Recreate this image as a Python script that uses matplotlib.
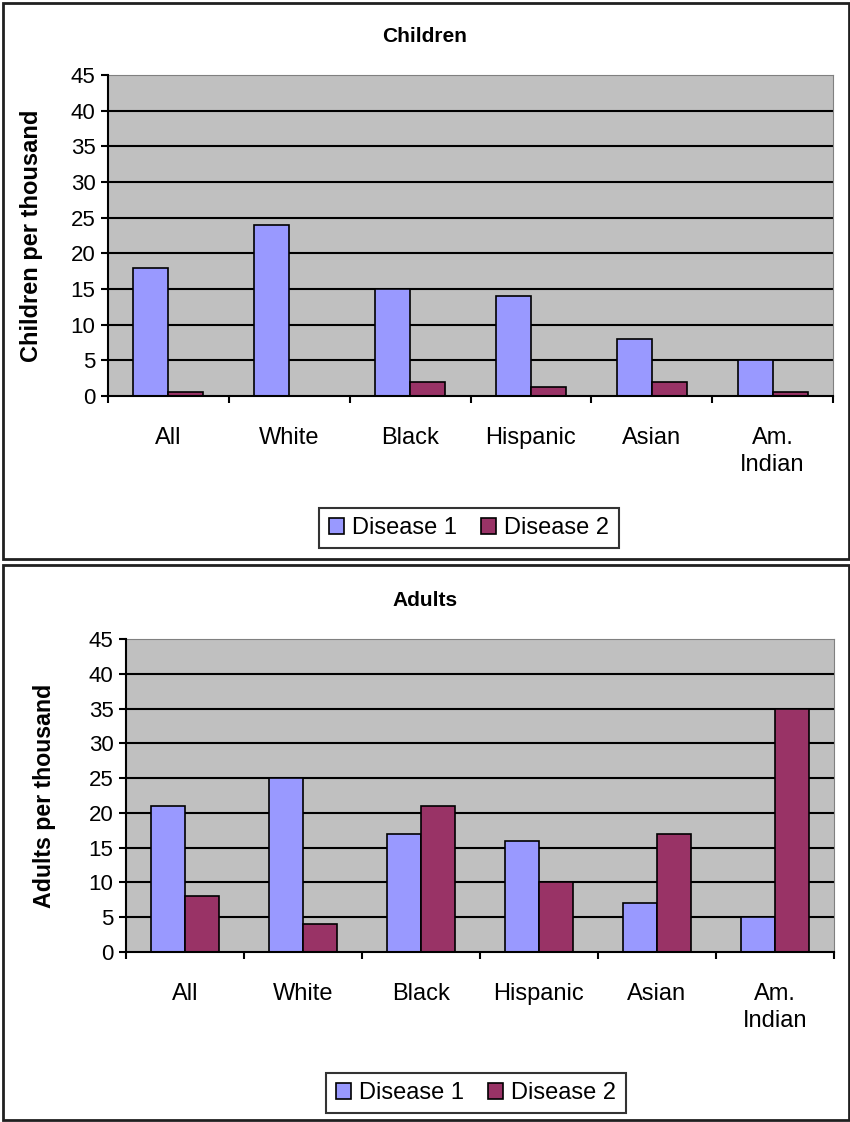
import numpy as np
import matplotlib
matplotlib.use('Agg')
import matplotlib.pyplot as plt
from matplotlib.patches import Rectangle

groups = ['All', 'White', 'Black', 'Hispanic', 'Asian', 'Am.\nIndian']
series_names = ['Disease 1', 'Disease 2']

children_d1 = [18, 24, 15, 14, 8, 5]
children_d2 = [0.6, 0, 2, 1.2, 2, 0.6]

adults_d1 = [21, 25, 17, 16, 7, 5]
adults_d2 = [8, 4, 21, 10, 17, 35]

y_ticks = [0, 5, 10, 15, 20, 25, 30, 35, 40, 45]

plt.rcParams['font.family'] = ['Liberation Sans', 'DejaVu Sans']

W, H = 850, 1122
fig = plt.figure(figsize=(W / 100, H / 100), dpi=100)
fig.patch.set_facecolor('white')


def px_box(left, top, right, bottom):
    # pixel box -> figure fraction [x0, y0, w, h]
    return [left / W, 1 - bottom / H, (right - left) / W, (bottom - top) / H]


def draw_panel(box, title, title_y, ylabel, ylabel_x, ylabel_size, d1, d2, leg_center, frame):
    ax = fig.add_axes(px_box(*box))
    ax.set_facecolor('#c0c0c0')
    x = np.arange(len(groups))
    w = 0.29
    ax.bar(x - w / 2, d1, w, color='#9999ff', edgecolor='black', linewidth=1.2, zorder=3, label=series_names[0])
    ax.bar(x + w / 2, d2, w, color='#993366', edgecolor='black', linewidth=1.2, zorder=3, label=series_names[1])

    ax.set_ylim(0, 45)
    ax.set_xlim(-0.5, len(groups) - 0.5)
    ax.set_yticks(y_ticks)
    ax.set_yticklabels([str(t) for t in y_ticks], fontsize=16)
    for t in y_ticks[1:-1]:
        ax.axhline(t, color='black', lw=1.5, zorder=1)

    # category boundaries get the tick marks, names sit at the centres
    ax.set_xticks(np.arange(len(groups) + 1) - 0.5)
    ax.set_xticklabels([])
    ax.set_xticks(x, minor=True)
    ax.set_xticklabels(groups, minor=True, fontsize=17, linespacing=1.3)
    ax.tick_params(axis='x', which='major', direction='out', length=5, width=1.5, color='black')
    ax.tick_params(axis='x', which='minor', length=0, pad=22)
    ax.tick_params(axis='y', direction='out', length=5, width=1.5, pad=4)

    ax.spines['left'].set_linewidth(1.5)
    ax.spines['bottom'].set_linewidth(1.5)
    ax.spines['left'].set_zorder(4)
    ax.spines['bottom'].set_zorder(4)
    ax.spines['top'].set_color('#808080')
    ax.spines['right'].set_color('#808080')

    fig.text(0.5, 1 - title_y / H, title, ha='center', va='center', fontsize=15, fontweight='bold')
    fig.text(ylabel_x / W, 1 - (box[1] + box[3]) / 2 / H, ylabel, rotation=90, ha='center', va='center',
             fontsize=ylabel_size, fontweight='bold')

    fig.legend(*ax.get_legend_handles_labels(), loc='center', ncol=2,
               bbox_to_anchor=(leg_center[0] / W, 1 - leg_center[1] / H),
               fontsize=17, frameon=True, fancybox=False, edgecolor='black',
               handlelength=0.65, handleheight=0.65, handletextpad=0.35, columnspacing=1.0,
               borderpad=0.4, borderaxespad=0)
    fig.legends[-1].get_frame().set_linewidth(1.5)

    l, t, r, b = frame
    fig.patches.append(Rectangle((l / W, 1 - b / H), (r - l) / W, (b - t) / H, transform=fig.transFigure,
                                 fill=False, edgecolor='#202020', linewidth=2))


draw_panel((108, 75, 833, 396), 'Children', 37, 'Children per thousand', 32, 17,
           children_d1, children_d2, (469, 528), (3, 3, 849, 559))
draw_panel((126, 639, 834, 952), 'Adults', 600, 'Adults per thousand', 45, 16.7,
           adults_d1, adults_d2, (476, 1093), (3, 565, 849, 1120))

fig.savefig('out.png', dpi=100)
